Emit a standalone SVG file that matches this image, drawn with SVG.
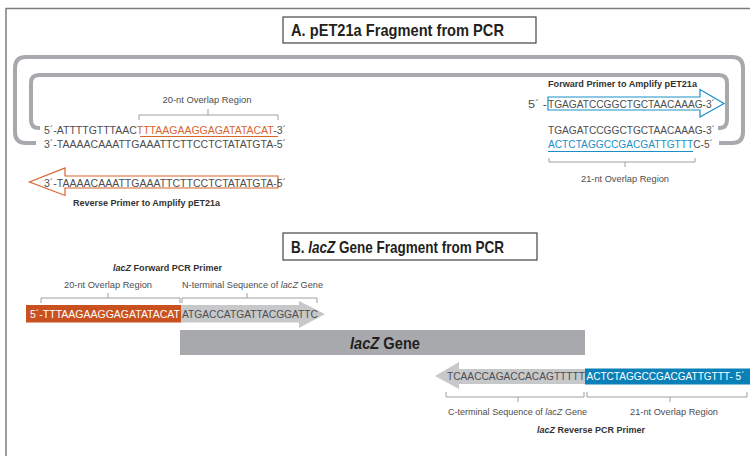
<svg xmlns="http://www.w3.org/2000/svg" width="750" height="456" viewBox="0 0 750 456">
<style>
.seq{font-family:"Liberation Sans",Arial,sans-serif;font-size:10px;fill:#4d4d4f}
.lbl{font-family:"Liberation Sans",Arial,sans-serif;font-size:9.5px;fill:#4d4d4f}
.bld{font-family:"Liberation Sans",Arial,sans-serif;font-size:9.5px;font-weight:bold;fill:#333}
.ttl{font-family:"Liberation Sans",Arial,sans-serif;font-size:17px;font-weight:bold;fill:#231f20}
.brk{fill:none;stroke:#9d9fa2;stroke-width:1}
.loop{fill:none;stroke:#a7a9ac;stroke-width:4}
</style>
<rect width="750" height="456" fill="#fff"/>
<path d="M6,456 V8.5 H750" fill="none" stroke="#7b7d80" stroke-width="1.5"/>

<g id="titleA">
<rect x="283" y="17" width="253" height="26" fill="#fff" stroke="#444" stroke-width="1.2"/>
<text class="ttl" x="291" y="35.5" textLength="213" lengthAdjust="spacingAndGlyphs">A. pET21a Fragment from PCR</text>
</g>

<g id="connectors">
<path class="loop" d="M36,143 H26 Q15,143 15,132 V68 Q15,57 26,57 H732 Q743,57 743,68 V132 Q743,143 732,143 H719"/>
<path class="loop" d="M40,128 H39 Q31,128 31,120 V83 Q31,75 39,75 H719 Q727,75 727,83 V120 Q727,128 719,128 H718"/>
</g>

<g id="pet21a-left">
<text class="lbl" x="207" y="102.5" text-anchor="middle" textLength="89" lengthAdjust="spacingAndGlyphs">20-nt Overlap Region</text>
<path class="brk" d="M139,120 V115 H278 V120 M208,115 V109"/>
<text class="seq" x="44" y="133.5" textLength="242" lengthAdjust="spacingAndGlyphs">5´-ATTTTGTTTAAC<tspan fill="#d8652b">TTTAAGAAGGAGATATACAT</tspan>-3´</text>
<line x1="140" y1="136.5" x2="278" y2="136.5" stroke="#d8652b" stroke-width="1"/>
<text class="seq" x="44" y="148" textLength="242" lengthAdjust="spacingAndGlyphs">3´-TAAAACAAATTGAAATTCTTCCTCTATATGTA-5´</text>
</g>

<g id="reverse-primer-a">
<path d="M278,176 H65 V168 L29.5,182 L65,195.5 V188 H278 Z" fill="none" stroke="#d8652b" stroke-width="1.2"/>
<text class="seq" x="44" y="186.5" textLength="242" lengthAdjust="spacingAndGlyphs">3´-TAAAACAAATTGAAATTCTTCCTCTATATGTA-5´</text>
<text class="bld" x="73" y="206" textLength="147" lengthAdjust="spacingAndGlyphs">Reverse Primer to Amplify pET21a</text>
</g>

<g id="forward-primer-a">
<text class="bld" x="548" y="87" textLength="149" lengthAdjust="spacingAndGlyphs">Forward Primer to Amplify pET21a</text>
<path d="M548,97 H700 V89.5 L724,103.5 L700,117 V110 H548 Z" fill="none" stroke="#1a8fc9" stroke-width="1.2"/>
<text class="seq" x="528" y="107.5" textLength="19" lengthAdjust="spacingAndGlyphs">5´ -</text>
<text class="seq" x="548" y="107.5" textLength="167" lengthAdjust="spacingAndGlyphs">TGAGATCCGGCTGCTAACAAAG-3´</text>
</g>

<g id="pet21a-right">
<text class="seq" x="548" y="133.5" textLength="167" lengthAdjust="spacingAndGlyphs">TGAGATCCGGCTGCTAACAAAG-3´</text>
<text class="seq" x="548" y="148" textLength="165" lengthAdjust="spacingAndGlyphs"><tspan fill="#1a8fc9">ACTCTAGGCCGACGATTGTTT</tspan>C-5´</text>
<line x1="548" y1="151.5" x2="693" y2="151.5" stroke="#1a8fc9" stroke-width="1"/>
<path class="brk" d="M549,158 V162 H695 V158 M625,162 V167"/>
<text class="lbl" x="625" y="182" text-anchor="middle" textLength="88" lengthAdjust="spacingAndGlyphs">21-nt Overlap Region</text>
</g>

<g id="titleB">
<rect x="283" y="233" width="254" height="27" fill="#fff" stroke="#444" stroke-width="1.2"/>
<text class="ttl" x="291" y="252.5" textLength="213" lengthAdjust="spacingAndGlyphs">B. <tspan font-style="italic">lacZ</tspan> Gene Fragment from PCR</text>
</g>

<g id="lacz-forward-primer">
<text class="bld" x="113" y="271" textLength="109" lengthAdjust="spacingAndGlyphs"><tspan font-style="italic">lacZ</tspan> Forward PCR Primer</text>
<text class="lbl" x="64" y="288" textLength="88" lengthAdjust="spacingAndGlyphs">20-nt Overlap Region</text>
<text class="lbl" x="182" y="288" textLength="141" lengthAdjust="spacingAndGlyphs">N-terminal Sequence of <tspan font-style="italic">lacZ</tspan> Gene</text>
<path class="brk" d="M41,303 V298 H180 V303 M108,298 V293"/>
<path class="brk" d="M182,303 V298 H317 V303 M247,298 V293"/>
<path d="M181,305 H299 V301 L325,314 L299,328 V322.5 H181 Z" fill="#c7c8ca"/>
<rect x="26" y="305" width="155" height="17.5" fill="#c9511f"/>
<text class="seq" x="30" y="318" style="fill:#fff" textLength="150" lengthAdjust="spacingAndGlyphs">5´-TTTAAGAAGGAGATATACAT</text>
<text class="seq" x="182" y="318" textLength="136" lengthAdjust="spacingAndGlyphs">ATGACCATGATTACGGATTC</text>
</g>

<g id="lacz-gene">
<rect x="180" y="330" width="405" height="25" fill="#a7a9ac"/>
<text class="ttl" x="350" y="348.5" textLength="70" lengthAdjust="spacingAndGlyphs"><tspan font-style="italic">lacZ</tspan> Gene</text>
</g>

<g id="lacz-reverse-primer">
<path d="M585,369 H459 V362 L435,376 L459,389 V384 H585 Z" fill="#c7c8ca"/>
<rect x="585" y="368.5" width="165" height="16" fill="#0a80b8"/>
<text class="seq" x="447" y="380" textLength="138" lengthAdjust="spacingAndGlyphs">TCAACCAGACCACAGTTTTT</text>
<text class="seq" x="586.5" y="380" style="fill:#fff" textLength="158" lengthAdjust="spacingAndGlyphs">ACTCTAGGCCGACGATTGTTT- 5´</text>
<path class="brk" d="M446,392 V397 H584 V392 M518,397 V402"/>
<path class="brk" d="M587,392 V397 H747 V392 M670,397 V402"/>
<text class="lbl" x="448" y="415" textLength="139" lengthAdjust="spacingAndGlyphs">C-terminal Sequence of <tspan font-style="italic">lacZ</tspan> Gene</text>
<text class="lbl" x="630" y="415" textLength="88" lengthAdjust="spacingAndGlyphs">21-nt Overlap Region</text>
<text class="bld" x="537" y="433" textLength="108" lengthAdjust="spacingAndGlyphs"><tspan font-style="italic">lacZ</tspan> Reverse PCR Primer</text>
</g>
</svg>
